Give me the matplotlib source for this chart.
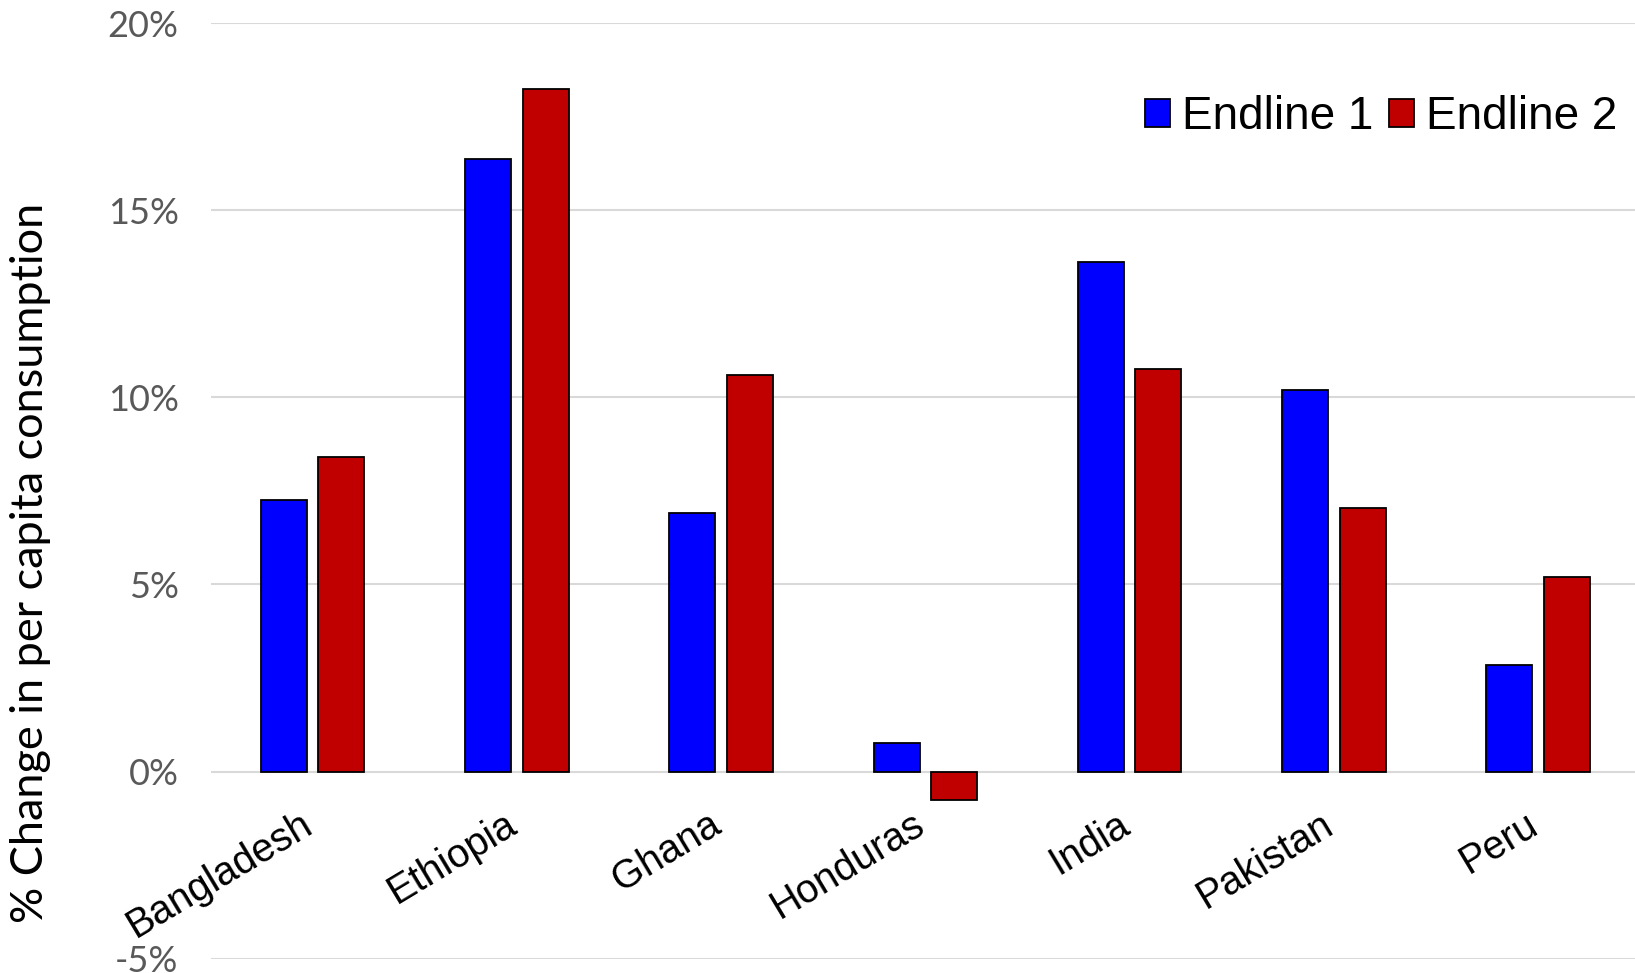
import numpy as np
import matplotlib
matplotlib.use("Agg")
import matplotlib.pyplot as plt

countries = ["Bangladesh", "Ethiopia", "Ghana", "Honduras", "India", "Pakistan", "Peru"]
endline1 = [7.26, 16.37, 6.91, 0.76, 13.62, 10.19, 2.84]
endline2 = [8.40, 18.24, 10.59, -0.75, 10.75, 7.03, 5.19]
series_names = ["Endline 1", "Endline 2"]
ytick_values = [-5, 0, 5, 10, 15, 20]

W, H = 1635, 973
fig = plt.figure(figsize=(W / 100, H / 100), dpi=100)
ax = fig.add_axes([210.5 / W, 1 - 958.7 / H, 1 - 210.5 / W, (958.7 - 23) / H])

x = np.arange(len(countries))
bw = 0.225
off = 0.141
ax.bar(x - off, endline1, bw, color="#0000FF", edgecolor="black", linewidth=1.3,
       label=series_names[0], zorder=3)
ax.bar(x + off, endline2, bw, color="#C00000", edgecolor="black", linewidth=1.3,
       label=series_names[1], zorder=3)

ax.set_xlim(-0.5, 6.474)
ax.set_ylim(-5, 20)
ax.set_yticks(ytick_values)
ax.set_yticklabels([f"{v}%" for v in ytick_values], fontsize=26,
                   family=["Lato", "DejaVu Sans"], color="#595959")
ax.tick_params(axis="y", length=0, pad=23)
ax.set_xticks([])
ax.yaxis.grid(True, color="#d9d9d9", linewidth=1.5)
ax.set_axisbelow(True)
for s in ax.spines.values():
    s.set_visible(False)

# category names, rotated, ending just below the zero line
for xi, name in zip(x, countries):
    ax.text(xi + 0.01, -1.58, name, rotation=31, rotation_mode="anchor",
            ha="right", va="baseline", fontsize=28.5,
            family=["Liberation Sans", "DejaVu Sans"], color="black")

fig.text(31 / W, 1 - 563 / H, "% Change in per capita consumption",
         rotation=90, ha="center", va="center", fontsize=32.5,
         family=["Lato", "DejaVu Sans"], fontweight="normal", color="black")

ax.legend(loc="center right", bbox_to_anchor=(1617 / W, 1 - 117 / H),
          bbox_transform=fig.transFigure, ncol=2, frameon=False,
          prop={"family": ["Liberation Sans", "DejaVu Sans"], "size": 33},
          handlelength=0.55, handleheight=0.55, handletextpad=0.25,
          columnspacing=0.35, borderaxespad=0, borderpad=0)

fig.savefig("out.png", dpi=100, facecolor="white")
